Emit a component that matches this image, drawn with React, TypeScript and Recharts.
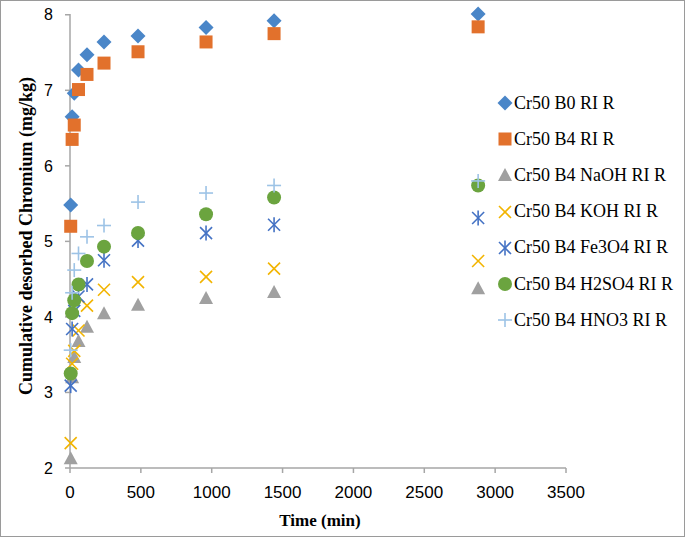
import React from "react";
import { ScatterChart, Scatter, XAxis, YAxis } from "recharts";

const times = [5, 15, 30, 60, 120, 240, 480, 960, 1440, 2880];

const b0 = [5.48, 6.65, 6.96, 7.27, 7.47, 7.64, 7.72, 7.83, 7.92, 8.01];
const b4 = [5.2, 6.35, 6.54, 7.01, 7.21, 7.36, 7.51, 7.64, 7.75, 7.84];
const naoh = [2.13, 3.2, 3.47, 3.68, 3.87, 4.05, 4.16, 4.25, 4.33, 4.38];
const koh = [2.33, 3.38, 3.55, 3.82, 4.15, 4.36, 4.46, 4.53, 4.64, 4.74];
const fe3o4 = [3.09, 3.84, 4.08, 4.27, 4.43, 4.75, 5.01, 5.11, 5.22, 5.31];
const h2so4 = [3.25, 4.05, 4.22, 4.43, 4.74, 4.93, 5.11, 5.36, 5.58, 5.74];
const hno3 = [3.56, 4.32, 4.62, 4.84, 5.06, 5.21, 5.52, 5.64, 5.74, 5.8];

const xTicks = [0, 500, 1000, 1500, 2000, 2500, 3000, 3500];
const yTicks = [2, 3, 4, 5, 6, 7, 8];

const AXIS = "#A6A6A6";

type Mk = "diamond" | "square" | "triangle" | "x" | "star" | "circle" | "plus";

function marker(kind: Mk, color: string, cx: number, cy: number) {
  switch (kind) {
    case "diamond":
      return <polygon points={`${cx},${cy - 7.5} ${cx + 7.5},${cy} ${cx},${cy + 7.5} ${cx - 7.5},${cy}`} fill={color} />;
    case "square":
      return <rect x={cx - 6.5} y={cy - 6.5} width={13} height={13} fill={color} />;
    case "triangle":
      return <polygon points={`${cx},${cy - 7} ${cx + 7},${cy + 6} ${cx - 7},${cy + 6}`} fill={color} />;
    case "x":
      return (
        <g stroke={color} strokeWidth={1.6}>
          <line x1={cx - 6} y1={cy - 6} x2={cx + 6} y2={cy + 6} />
          <line x1={cx - 6} y1={cy + 6} x2={cx + 6} y2={cy - 6} />
        </g>
      );
    case "star":
      return (
        <g stroke={color} strokeWidth={1.6}>
          <line x1={cx - 6} y1={cy - 6} x2={cx + 6} y2={cy + 6} />
          <line x1={cx - 6} y1={cy + 6} x2={cx + 6} y2={cy - 6} />
          <line x1={cx} y1={cy - 7.5} x2={cx} y2={cy + 7.5} />
        </g>
      );
    case "circle":
      return <circle cx={cx} cy={cy} r={7} fill={color} />;
    case "plus":
      return (
        <g stroke={color} strokeWidth={1.6}>
          <line x1={cx - 7} y1={cy} x2={cx + 7} y2={cy} />
          <line x1={cx} y1={cy - 7} x2={cx} y2={cy + 7} />
        </g>
      );
  }
}

const series: { name: string; vals: number[]; kind: Mk; color: string }[] = [
  { name: "Cr50 B0 RI R", vals: b0, kind: "diamond", color: "#4A86C8" },
  { name: "Cr50 B4 RI R", vals: b4, kind: "square", color: "#E2712C" },
  { name: "Cr50 B4 NaOH RI R", vals: naoh, kind: "triangle", color: "#A0A0A0" },
  { name: "Cr50 B4 KOH RI R", vals: koh, kind: "x", color: "#F2B400" },
  { name: "Cr50 B4 Fe3O4 RI R", vals: fe3o4, kind: "star", color: "#4472C4" },
  { name: "Cr50 B4 H2SO4 RI R", vals: h2so4, kind: "circle", color: "#6BA43F" },
  { name: "Cr50 B4 HNO3 RI R", vals: hno3, kind: "plus", color: "#9DC3E6" },
];

export default function App() {
  return (
    <div style={{ position: "absolute", left: 0, top: 0, width: 685, height: 537, background: "#fff" }}>
      <ScatterChart width={685} height={537} margin={{ top: 14, right: 119, bottom: 29, left: 10 }}>
        <XAxis
          type="number"
          dataKey="x"
          domain={[0, 3500]}
          ticks={xTicks}
          height={40}
          tickSize={5}
          tickMargin={13}
          stroke={AXIS}
          strokeWidth={1.5}
          tick={{ fill: "#000", fontSize: 17, fontFamily: "Liberation Sans" }}
          label={{
            content: () => (
              <text x={320} y={526} textAnchor="middle" fontFamily="Liberation Serif" fontWeight="bold" fontSize={17} fill="#000">
                Time (min)
              </text>
            ),
          }}
        />
        <YAxis
          type="number"
          dataKey="y"
          domain={[2, 8]}
          ticks={yTicks}
          width={60}
          tickSize={5}
          tickMargin={12}
          stroke={AXIS}
          strokeWidth={1.5}
          tick={{ fill: "#000", fontSize: 16, fontFamily: "Liberation Sans" }}
          label={{
            content: () => (
              <text
                x={0}
                y={0}
                transform="translate(32,236) rotate(-90)"
                textAnchor="middle"
                fontFamily="Liberation Serif"
                fontWeight="bold"
                fontSize={18}
                fill="#000"
              >
                Cumulative desorbed Chromium (mg/kg)
              </text>
            ),
          }}
        />
        {series.map((s) => (
          <Scatter
            key={s.name}
            name={s.name}
            data={times.map((t, i) => ({ x: t, y: s.vals[i] }))}
            isAnimationActive={false}
            shape={(p: any) => marker(s.kind, s.color, p.cx, p.cy)}
          />
        ))}
      </ScatterChart>
      <div style={{ position: "absolute", left: 497, top: 85, fontFamily: "Liberation Serif", fontSize: 18, color: "#000" }}>
        {series.map((s) => (
          <div key={s.name} style={{ display: "flex", alignItems: "center", height: 36.2, whiteSpace: "nowrap" }}>
            <svg width={16} height={16} style={{ marginRight: 1 }}>
              {marker(s.kind, s.color, 8, 8)}
            </svg>
            <span>{s.name}</span>
          </div>
        ))}
      </div>
      <div style={{ position: "absolute", left: 0, top: 0, width: 685, height: 537, boxSizing: "border-box", border: "1px solid #9a9a9a", pointerEvents: "none" }} />
    </div>
  );
}
